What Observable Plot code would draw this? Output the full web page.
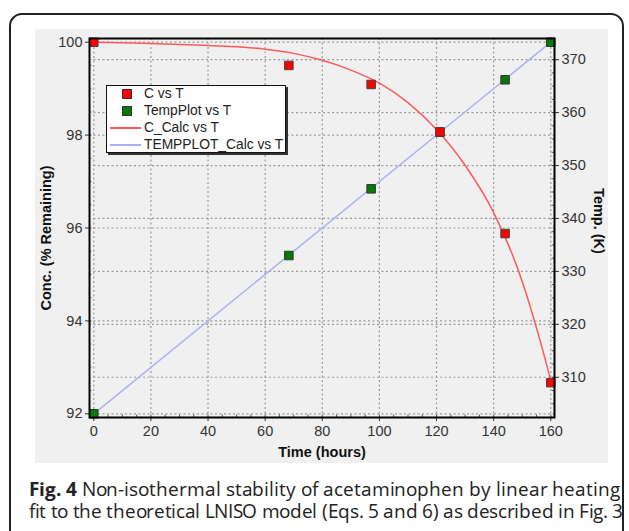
<!DOCTYPE html>
<html>
<head>
<meta charset="utf-8">
<script src="https://cdn.jsdelivr.net/npm/d3@7"></script>
<script src="https://cdn.jsdelivr.net/npm/@observablehq/plot@0.6"></script>
<style>
  @font-face { font-family: "CapSans"; src: local("Open Sans"), local("Open Sans Regular"), local("OpenSans-Regular"); font-weight: 400; ascent-override: 88%; descent-override: 12%; line-gap-override: 0%; }
  @font-face { font-family: "CapSans"; src: local("Open Sans Bold"), local("OpenSans-Bold"), local("Open Sans"); font-weight: 700; ascent-override: 88%; descent-override: 12%; line-gap-override: 0%; }
  html, body { margin: 0; padding: 0; background: #fff; width: 629px; height: 531px; overflow: hidden; }
  #border { position: absolute; left: 9px; top: 13px; width: 615px; height: 600px; border: 2px solid #222; border-radius: 13px; box-sizing: border-box; }
  #chart { position: absolute; left: 35px; top: 29px; width: 573px; height: 434px; background: #f0f0f0; }
  #legend { position: absolute; left: 106px; top: 85px; width: 180px; height: 68px; background: #fff; border: 1px solid #111; box-shadow: 2px 2px 0 #333; box-sizing: border-box; font-family: "Liberation Sans", Arial, sans-serif; font-size: 13.8px; color: #222; }
  .row { position: absolute; left: 0; height: 16px; line-height: 16px; width: 100%; }
  .row span { position: absolute; left: 37px; top: 0; white-space: nowrap; }
  .sq { position: absolute; left: 15px; top: 3px; width: 8px; height: 8px; border: 1px solid #333; box-sizing: content-box; }
  .ln { position: absolute; left: 3px; top: 7px; width: 31px; height: 0; }
  #caption { position: absolute; left: 29px; top: 478px; font-family: "CapSans", "Open Sans", sans-serif; font-size: 19px; line-height: 21px; color: #222; white-space: nowrap; }
  #caption .cl { position: absolute; left: 0; height: 21px; line-height: 21px; width: max-content; }
</style>
</head>
<body>
<div id="border"></div>
<div id="chart"></div>
<div id="legend"></div>
<div id="caption"></div>
<script>
// ---- data ----
const times = [0, 68.3, 97.1, 121.2, 144.0, 160];
const concPct = [100, 99.5, 99.09, 98.07, 95.88, 92.67];
const tempK = [303.1, 333.0, 345.6, 356.3, 366.2, 373.3];

const calcTimes = [0, 10, 20, 30, 40, 50, 60, 70, 80, 90, 100, 110, 120, 130, 140, 150, 155, 160];
const concCalc = [100, 99.99, 99.97, 99.95, 99.93, 99.9, 99.85, 99.76, 99.61, 99.4, 99.12, 98.7, 98.12, 97.35, 96.33, 94.85, 93.85, 92.72];

const tempCalcTimes = [0, 160];
const tempCalc = [303.1, 373.3];

const xTicks = [0, 20, 40, 60, 80, 100, 120, 140, 160];
const concTicks = [92, 94, 96, 98, 100];
const tempTicks = [310, 320, 330, 340, 350, 360, 370];
const xMinor = d3.range(0, 161, 5);
const concMinor = d3.range(92, 100.01, 0.5);
const tempMinor = d3.range(305, 372.6, 2.5);

const seriesNames = ["C vs T", "TempPlot vs T", "C_Calc vs T", "TEMPPLOT_Calc vs T"];
const xLabel = "Time (hours)";
const yLabel = "Conc. (% Remaining)";
const y2Label = "Temp. (K)";
const captionLines = [
  ["Fig. 4", " Non-isothermal stability of acetaminophen by linear heating"],
  ["", "fit to the theoretical LNISO model (Eqs. 5 and 6) as described in Fig. 3"]
];
const captionWidths = [591, 594];

// ---- scales ----
const xDomain = [-1.5, 161.3];
const yDomain = [91.92, 100.08];
const tDomain = [302.4, 374.0];
const toY = d3.scaleLinear().domain(tDomain).range(yDomain);

const measured = times.map((t, i) => ({t, c: concPct[i], k: toY(tempK[i])}));
const calcC = calcTimes.map((t, i) => ({t, c: concCalc[i]}));
const calcT = tempCalcTimes.map((t, i) => ({t, k: toY(tempCalc[i])}));

const gridStyle = {stroke: "#999", strokeOpacity: 1, strokeWidth: 1.2, strokeDasharray: "2,2.5"};
const font = "Liberation Sans, Arial, sans-serif";
const yTick = (yDomain[1] - yDomain[0]) / 379 * 3; // ~3px in data units
const xTick = (xDomain[1] - xDomain[0]) / 465 * 3;

const chart = Plot.plot({
  width: 573,
  height: 434,
  marginLeft: 54,
  marginRight: 54,
  marginTop: 9,
  marginBottom: 46,
  style: {background: "transparent", fontFamily: font, fontSize: "14.5px", color: "#333"},
  x: {domain: xDomain},
  y: {domain: yDomain},
  marks: [
    Plot.gridX(xTicks, gridStyle),
    Plot.gridY(concTicks, gridStyle),
    Plot.gridY(tempTicks.map(toY), gridStyle),
    // minor ticks (inside)
    Plot.ruleX(xMinor, {y1: yDomain[0], y2: yDomain[0] + yTick * 0.8, stroke: "#555"}),
    Plot.ruleY(concMinor, {x1: xDomain[0], x2: xDomain[0] + xTick * 0.8, stroke: "#555"}),
    Plot.ruleY(tempMinor.map(toY), {x1: xDomain[1] - xTick * 0.8, x2: xDomain[1], stroke: "#555"}),
    Plot.axisX(xTicks, {tickSize: 4, tickPadding: 4, fontSize: 14.5, label: null, stroke: "#333", fill: "#333"}),
    Plot.axisY(concTicks, {anchor: "left", tickSize: 4, tickPadding: 3, fontSize: 14.5, label: null, fill: "#333"}),
    Plot.axisY(tempTicks.map(toY), {anchor: "right", tickSize: 4, tickPadding: 3, fontSize: 14.5, label: null, fill: "#333",
      tickFormat: d => String(Math.round(toY.invert(d)))}),
    Plot.line(calcT, {x: "t", y: "k", stroke: "#a9b1f4", strokeWidth: 1.5}),
    Plot.line(calcC, {x: "t", y: "c", stroke: "#ff5a5a", strokeWidth: 1.5, curve: "monotone-x"}),
    Plot.dot(measured, {x: "t", y: "k", symbol: "square", r: 4.8, fill: "#067a06", stroke: "#333", strokeWidth: 1}),
    Plot.dot(measured, {x: "t", y: "c", symbol: "square", r: 4.8, fill: "#ff0000", stroke: "#444", strokeWidth: 1}),
    Plot.frame({stroke: "#000", strokeWidth: 2}),
    Plot.text([xLabel], {frameAnchor: "bottom", textAnchor: "middle", dy: 39, text: d => d, fontWeight: "bold", fontSize: 14.5, fill: "#111"}),
    Plot.text([yLabel], {frameAnchor: "left", textAnchor: "middle", dx: -43, dy: 10, rotate: -90, text: d => d, fontWeight: "bold", fontSize: 14.5, fill: "#111"}),
    Plot.text([y2Label], {frameAnchor: "right", textAnchor: "middle", dx: 44, dy: -7, rotate: 90, text: d => d, fontWeight: "bold", fontSize: 14.5, fill: "#111"})
  ]
});
document.getElementById("chart").appendChild(chart);

// ---- legend ----
const legend = document.getElementById("legend");
const legendSwatches = [
  {type: "sq", color: "#ff0000"},
  {type: "sq", color: "#067a06"},
  {type: "ln", color: "#ff5a5a"},
  {type: "ln", color: "#a9b1f4"}
];
seriesNames.forEach((name, i) => {
  const row = document.createElement("div");
  row.className = "row";
  row.style.top = (i * 17) + "px";
  const sw = document.createElement("div");
  sw.className = legendSwatches[i].type;
  if (legendSwatches[i].type === "sq") sw.style.background = legendSwatches[i].color;
  else sw.style.borderTop = "2px solid " + legendSwatches[i].color;
  row.appendChild(sw);
  const s = document.createElement("span");
  s.textContent = name;
  row.appendChild(s);
  legend.appendChild(row);
});

// ---- caption (each line fitted to the width it has in the reference) ----
function buildCaption() {
  const caption = document.getElementById("caption");
  caption.innerHTML = "";
  captionLines.forEach(([bold, rest], i) => {
    const line = document.createElement("div");
    line.className = "cl";
    line.style.top = (i * 22) + "px";
    if (bold) {
      const b = document.createElement("b");
      b.textContent = bold;
      line.appendChild(b);
    }
    const r = document.createElement("span");
    r.textContent = rest;
    r.style.whiteSpace = "pre";
    line.appendChild(r);
    caption.appendChild(line);
    const w = line.getBoundingClientRect().width;
    const chars = (bold + rest).length;
    line.style.letterSpacing = ((captionWidths[i] - w) / chars) + "px";
  });
}
buildCaption();
if (document.fonts && document.fonts.ready) document.fonts.ready.then(buildCaption);
</script>
</body>
</html>
